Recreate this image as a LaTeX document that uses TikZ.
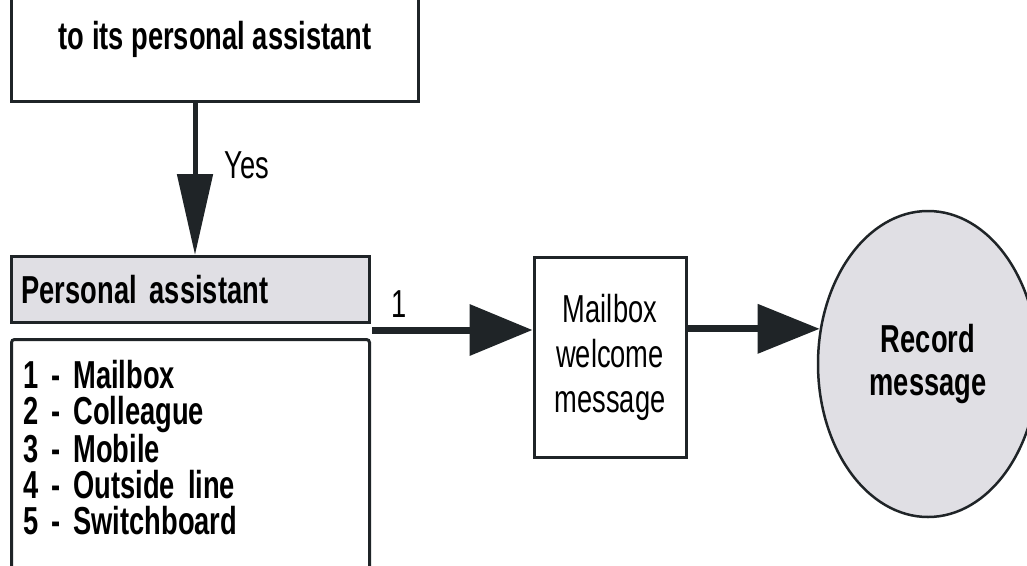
\documentclass[tikz,border=0pt]{standalone}
\usepackage{fontspec}
\setmainfont[FakeStretch=0.70]{Liberation Sans}
\usetikzlibrary{arrows.meta,positioning,shapes.geometric,calc}
\definecolor{flowline}{HTML}{1F2427}
\definecolor{flowgrey}{HTML}{E0DFE4}
\tikzset{
  flowbox/.style={
    draw=flowline,
    line width=3pt,
    fill=white,
    inner sep=0pt
  },
  flowhead/.style={
    draw=flowline,
    line width=3pt,
    fill=flowgrey,
    inner ysep=0pt,
    inner xsep=10pt,
    text width=338pt,
    minimum height=66pt,
    align=left,
    font=\fontsize{39pt}{45pt}\selectfont\bfseries
  },
  flowend/.style={
    ellipse,
    draw=flowline,
    line width=2.5pt,
    fill=flowgrey,
    minimum width=220pt,
    minimum height=306pt,
    align=center,
    font=\fontsize{39pt}{43pt}\selectfont\bfseries
  },
  flowtext/.style={
    inner sep=0pt,
    font=\fontsize{39pt}{45pt}\selectfont
  },
  flowarrow/.style={
    -{Triangle[length=63pt,width=50pt]},
    line width=7pt,
    draw=flowline
  },
  flowdown/.style={
    -{Triangle[length=81pt,width=35pt]},
    line width=5pt,
    draw=flowline
  }
}
\begin{document}
\begin{tikzpicture}[x=1pt,y=-1pt]
  \useasboundingbox (0,0) rectangle (1027,565);
  \clip (0,0) rectangle (1027,565);

  \node[flowbox, anchor=south west, minimum width=407pt, text height=100pt, text depth=48pt,
        inner sep=4pt, font=\fontsize{39pt}{45pt}\selectfont\bfseries] (assist) at (10,103)
        {to its personal assistant};

  \node[flowhead, anchor=north west] (header) at (10,255) {Personal assistant};
  \node[flowbox, rounded corners=3pt, anchor=north west, minimum width=358pt, minimum height=280pt]
        (menu) at (10,338) {};
  \node[flowtext, anchor=north west, text width=330pt, align=left,
        font=\fontsize{39pt}{36.3pt}\selectfont\bfseries] (items) at (23,360)
        {1 - Mailbox\\2 - Colleague\\3 - Mobile\\4 - Outside line\\5 - Switchboard};

  \node[flowbox, minimum width=152pt, minimum height=200pt, align=center,
        font=\fontsize{39pt}{45pt}\selectfont] (welcome) at (610,357)
        {Mailbox\\welcome\\message};
  \node[flowend] (record) at (928,364) {Record\\message};

  \coordinate (choice1) at (372,330);

  \draw[flowdown] ([xshift=185pt]assist.south west) -- ([xshift=185pt]header.north west)
    node[flowtext, pos=0.41, anchor=west, xshift=27pt] (yes) {Yes};
  \draw[flowarrow] (choice1) -- (choice1 -| welcome.west)
    node[flowtext, pos=0.17, anchor=base, yshift=13pt] (one) {1};
  \draw[flowarrow, -{Triangle[length=62pt,width=48pt]}] (record.162 -| welcome.east) -- (record.162);
\end{tikzpicture}
\end{document}
